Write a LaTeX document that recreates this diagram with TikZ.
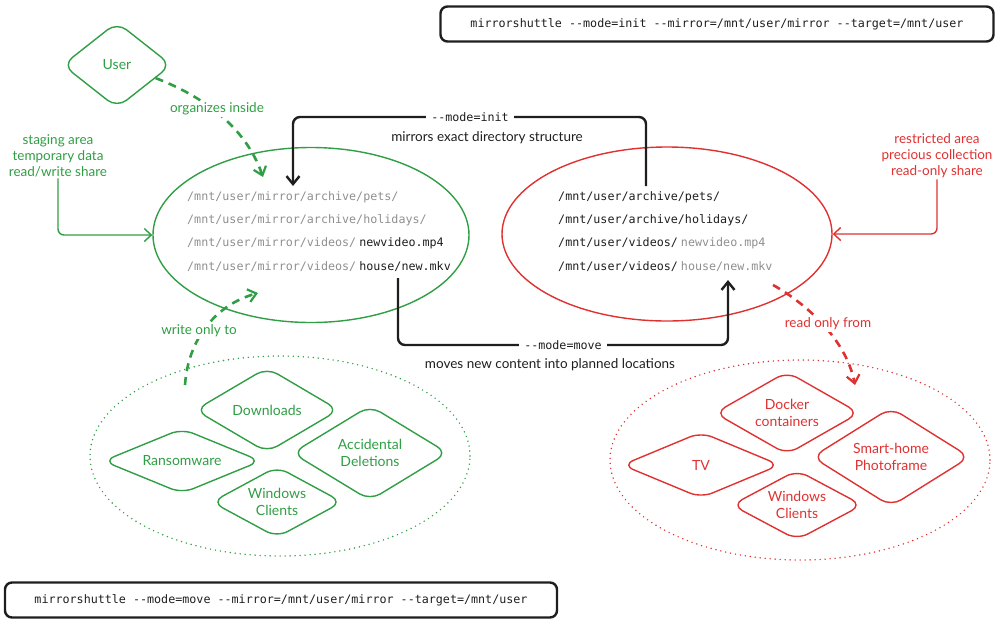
\documentclass[tikz,border=0pt]{standalone}
\usepackage{fontspec}
\setmainfont{Lato}
\setmonofont{DejaVu Sans Mono}
\usetikzlibrary{arrows.meta,shapes.geometric,calc}
\definecolor{exgreen}{HTML}{2F9E44}
\definecolor{exred}{HTML}{E03131}
\definecolor{exblack}{HTML}{1E1E1E}
\definecolor{exgray}{HTML}{8F8F8F}
\begin{document}
\begin{tikzpicture}[x=1pt,y=-1pt,
  hand/.style={font=\fontsize{13.5}{16}\selectfont, align=center, inner sep=1pt},
  mono/.style={font=\fontsize{11.7}{14}\selectfont\ttfamily, inner sep=0pt},
  dia/.style={diamond, draw, rounded corners=12pt, line width=1.4pt, inner sep=0pt, aspect=2,
    align=center, font=\fontsize{14}{17}\selectfont},
  cmdbox/.style={draw=exblack, line width=2.4pt, rounded corners=7pt, minimum height=35pt,
    font=\fontsize{11.7}{14}\selectfont\ttfamily, text=exblack},
  zone/.style={ellipse, draw, line width=1.4pt, inner sep=0pt},
  dotzone/.style={ellipse, draw, line width=1.6pt, line cap=round, dash pattern=on 0pt off 5pt, inner sep=0pt},
  dasharrow/.style={line width=2.6pt, dash pattern=on 8pt off 6pt, -{Straight Barb[length=8pt,width=13pt,line width=2.2pt]}},
  thinarrow/.style={line width=1.4pt, rounded corners=6pt, -{Straight Barb[length=7pt,width=13pt]}},
  modearrow/.style={draw=exblack, line width=2.4pt, rounded corners=7pt, -{Straight Barb[length=8pt,width=13pt]}},
  lbl/.style={fill=white, inner sep=2pt}
]
\useasboundingbox (0,0) rectangle (1000,625);

% command boxes
\node[cmdbox, minimum width=553pt] (cmdinit) at (717,24) {mirrorshuttle --mode=init --mirror=/mnt/user/mirror --target=/mnt/user};
\node[cmdbox, minimum width=552pt] (cmdmove) at (281,600) {mirrorshuttle --mode=move --mirror=/mnt/user/mirror --target=/mnt/user};

% user
\node[dia, draw=exgreen, text=exgreen, minimum width=109pt, minimum height=86pt] (user) at (117,65) {User};

% main ellipses
\node[zone, draw=exgreen, minimum width=316pt, minimum height=175pt] (greenell) at (311,235) {};
\node[zone, draw=exred, minimum width=330pt, minimum height=174pt] (redell) at (667,234) {};

% green paths
\node[mono, anchor=west, text=exgray] (g1) at (187,197) {/mnt/user/mirror/archive/pets/};
\node[mono, anchor=west, text=exgray] (g2) at (187,220) {/mnt/user/mirror/archive/holidays/};
\node[mono, anchor=west, text=exgray] (g3) at (187,243) {/mnt/user/mirror/videos/\hspace{3pt}\textcolor{exblack}{newvideo.mp4}};
\node[mono, anchor=west, text=exgray] (g4) at (187,267) {/mnt/user/mirror/videos/\hspace{3pt}\textcolor{exblack}{house/new.mkv}};

% red paths
\node[mono, anchor=west, text=exblack] (r1) at (558,197) {/mnt/user/archive/pets/};
\node[mono, anchor=west, text=exblack] (r2) at (558,220) {/mnt/user/archive/holidays/};
\node[mono, anchor=west, text=exblack] (r3) at (558,243) {/mnt/user/videos/\hspace{3pt}\textcolor{exgray}{newvideo.mp4}};
\node[mono, anchor=west, text=exblack] (r4) at (558,267) {/mnt/user/videos/\hspace{3pt}\textcolor{exgray}{house/new.mkv}};

% side annotations
\node[hand, text=exgreen] (stage) at (58,156) {staging area\\temporary data\\read/write share};
\node[hand, text=exred] (restrict) at (937,156) {restricted area\\precious collection\\read-only share};
\draw[thinarrow, draw=exgreen] (stage.south) |- (greenell.west);
\draw[thinarrow, draw=exred] (restrict.south) |- (redell.east);

% mode init
\coordinate (initstart) at (646,186);
\coordinate (initend) at (293,186);
\draw[modearrow] (initstart) -- ++(0,-69) -| (initend);
\node[mono, fill=white, inner sep=5pt, text=exblack] (initlbl) at (470,117) {--mode=init};
\node[hand, text=exblack] (initdesc) at (487,138) {mirrors exact directory structure};

% mode move
\coordinate (movestart) at (398,278);
\coordinate (moveend) at (728,280);
\draw[modearrow] (movestart) -- ++(0,67) -| (moveend);
\node[mono, fill=white, inner sep=5pt, text=exblack] (movelbl) at (563,345) {--mode=move};
\node[hand, text=exblack] (movedesc) at (550,365) {moves new content into planned locations};

% zones
\node[dotzone, draw=exgreen, minimum width=380pt, minimum height=200pt] (greenzone) at (280,456) {};
\node[dotzone, draw=exred, minimum width=380pt, minimum height=200pt] (redzone) at (800,460) {};

% green diamonds
\node[dia, draw=exgreen, text=exgreen, minimum width=144pt, minimum height=85pt] (downloads) at (267,410) {Downloads};
\node[dia, draw=exgreen, text=exgreen, minimum width=158pt, minimum height=65pt] (ransom) at (182,461) {Ransomware};
\node[dia, draw=exgreen, text=exgreen, minimum width=156pt, minimum height=95pt] (accid) at (370,453) {Accidental\\Deletions};
\node[dia, draw=exgreen, text=exgreen, minimum width=131pt, minimum height=71pt] (gwin) at (277,502) {Windows\\Clients};

% red diamonds
\node[dia, draw=exred, text=exred, minimum width=145pt, minimum height=83pt] (docker) at (787,413) {Docker\\containers};
\node[dia, draw=exred, text=exred, minimum width=158pt, minimum height=66pt] (tv) at (701,465) {TV};
\node[dia, draw=exred, text=exred, minimum width=158pt, minimum height=99pt] (smart) at (891,457) {Smart-home\\Photoframe};
\node[dia, draw=exred, text=exred, minimum width=131pt, minimum height=70pt] (rwin) at (797,505) {Windows\\Clients};

% dashed arrows
\coordinate (orgstart) at ($(user.east)!0.3!(user.south)$);
\coordinate (orgtip) at (263,177);
\draw[dasharrow, draw=exgreen] (orgstart) .. controls (200,95) and (245,125) .. (orgtip);
\node[hand, lbl, text=exgreen] (orglbl) at (217,109) {organizes inside};

\coordinate (writestart) at (185,385);
\coordinate (writetip) at (258,293);
\draw[dasharrow, draw=exgreen] (writestart) .. controls (188,340) and (215,305) .. (writetip);
\node[hand, lbl, text=exgreen] (writelbl) at (199,331) {write only to};

\coordinate (readstart) at (773,285);
\coordinate (readtip) at (855,385);
\draw[dasharrow, draw=exred] (readstart) .. controls (800,300) and (845,335) .. (readtip);
\node[hand, lbl, text=exred] (readlbl) at (828,324) {read only from};
\end{tikzpicture}
\end{document}
